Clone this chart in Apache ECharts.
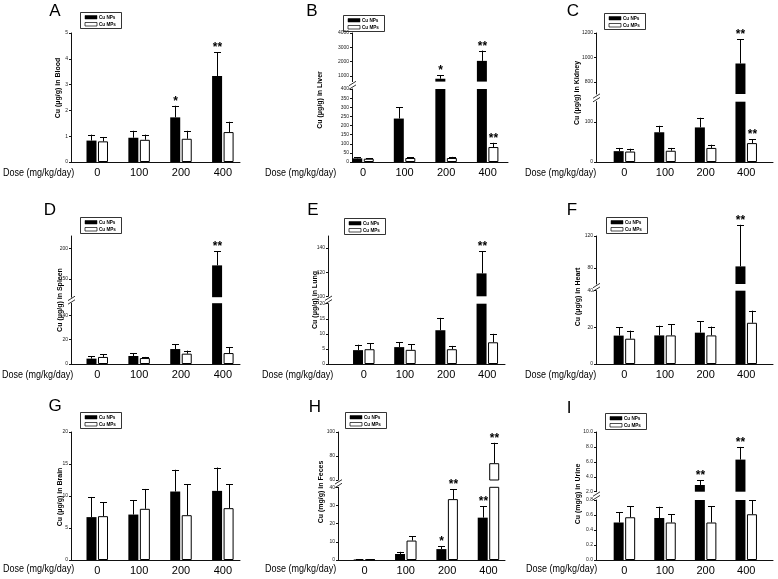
<!DOCTYPE html>
<html><head><meta charset="utf-8">
<script src="https://cdn.jsdelivr.net/npm/echarts@6/dist/echarts.min.js"></script>
<style>html,body{margin:0;padding:0;background:#fff}#c{width:778px;height:579px}</style>
</head><body><div id="c"></div>
<script>
// ---------- data ----------
const doses = ['0', '100', '200', '400'];
const legendNames = ['Cu NPs', 'Cu MPs'];

const bloodNP = [0.83, 0.94, 1.73, 3.33];
const bloodNPsd = [0.23, 0.27, 0.45, 0.93];
const bloodMP = [0.80, 0.86, 0.90, 1.16];
const bloodMPsd = [0.17, 0.20, 0.31, 0.40];
const bloodSigNP = ['', '', '*', '**'];
const bloodSigMP = ['', '', '', ''];
const bloodTicks = [0, 1, 2, 3, 4, 5];

const liverNP = [20, 238, 800, 2050];
const liverNPsd = [6, 62, 250, 720];
const liverMP = [18, 22, 22, 82];
const liverMPsd = [4, 5, 6, 23];
const liverSigNP = ['', '', '*', '**'];
const liverSigMP = ['', '', '', '**'];
const liverTicksLow = [0, 50, 100, 150, 200, 250, 300, 350, 400];
const liverTicksHigh = [1000, 2000, 3000, 4000];

const kidneyNP = [27, 74, 86, 950];
const kidneyNPsd = [8, 16, 24, 200];
const kidneyMP = [26, 28, 35, 47];
const kidneyMPsd = [7, 7, 8, 10];
const kidneySigNP = ['', '', '', '**'];
const kidneySigMP = ['', '', '', '**'];
const kidneyTicksLow = [0, 100];
const kidneyTicksHigh = [800, 1000, 1200];

const spleenNP = [4.4, 6.6, 12.3, 172];
const spleenNPsd = [1.9, 2.4, 3.9, 23];
const spleenMP = [5.8, 4.9, 8.5, 9.0];
const spleenMPsd = [2.4, 0.9, 2.5, 5.0];
const spleenSigNP = ['', '', '', '**'];
const spleenSigMP = ['', '', '', ''];
const spleenTicksLow = [0, 20, 40];
const spleenTicksHigh = [150, 200];

const lungNP = [4.6, 5.6, 11.2, 119];
const lungNPsd = [1.8, 1.7, 4.1, 18.5];
const lungMP = [4.9, 4.7, 4.9, 7.2];
const lungMPsd = [2.0, 1.9, 1.1, 2.8];
const lungSigNP = ['', '', '', '**'];
const lungSigMP = ['', '', '', ''];
const lungTicksLow = [0, 5, 10, 15, 20];
const lungTicksHigh = [100, 120, 140];

const heartNP = [15.5, 15.6, 17.1, 82];
const heartNPsd = [4.5, 5.3, 6.2, 52];
const heartMP = [13.8, 15.6, 15.6, 22.5];
const heartMPsd = [4.4, 6.2, 4.8, 6.6];
const heartSigNP = ['', '', '', '**'];
const heartSigMP = ['', '', '', ''];
const heartTicksLow = [0, 20, 40];
const heartTicksHigh = [80, 120];

const brainNP = [6.7, 7.1, 10.7, 10.8];
const brainNPsd = [3.15, 2.2, 3.4, 3.65];
const brainMP = [6.85, 8.0, 7.0, 8.1];
const brainMPsd = [2.2, 3.1, 4.8, 3.7];
const brainSigNP = ['', '', '', ''];
const brainSigMP = ['', '', '', ''];
const brainTicks = [0, 5, 10, 15, 20];

const fecesNP = [0.3, 3.3, 6.0, 23.3];
const fecesNPsd = [0.1, 1.2, 1.6, 6.3];
const fecesMP = [0.3, 10.7, 33.5, 74];
const fecesMPsd = [0.1, 2.4, 5.4, 17];
const fecesSigNP = ['', '', '*', '**'];
const fecesSigMP = ['', '', '**', '**'];
const fecesTicksLow = [0, 10, 20, 30, 40];
const fecesTicksHigh = [60, 80, 100];

const urineNP = [0.50, 0.56, 2.9, 6.3];
const urineNPsd = [0.14, 0.15, 0.65, 1.7];
const urineMP = [0.57, 0.50, 0.50, 0.61];
const urineMPsd = [0.15, 0.11, 0.22, 0.19];
const urineSigNP = ['', '', '**', '**'];
const urineSigMP = ['', '', '', ''];
const urineTicksLow = [0, 0.2, 0.4, 0.6, 0.8];
const urineTicksHigh = [2, 4, 6, 8, 10];

// ---------- layout ----------
const FR = "'Liberation Sans',Arial,sans-serif";
const fmt1 = v => Number(v).toFixed(1);

const panels = [
  {letter:'A', yName:'Cu (μg/g) in Blood', np:bloodNP, npSd:bloodNPsd, mp:bloodMP, mpSd:bloodMPsd, sigNP:bloodSigNP, sigMP:bloodSigMP,
   segs:[{lo:0, hi:5, ticks:bloodTicks}],
   lay:{ax:71, right:240, xmin:-0.627, xmax:3.41, px:[[33,162]], letter:[55,11], leg:[80,12], name:[58,88], dose:[3,173]}},
  {letter:'B', yName:'Cu (μg/g) in Liver', np:liverNP, npSd:liverNPsd, mp:liverMP, mpSd:liverMPsd, sigNP:liverSigNP, sigMP:liverSigMP,
   segs:[{lo:0, hi:400, ticks:liverTicksLow}, {lo:600, hi:4000, ticks:liverTicksHigh}],
   lay:{ax:352, right:508, xmin:-0.265, xmax:3.49, px:[[89,162],[33,81.6]], letter:[312,11], leg:[343,15], name:[320,100], dose:[265,173]}},
  {letter:'C', yName:'Cu (μg/g) in Kidney', np:kidneyNP, npSd:kidneyNPsd, mp:kidneyMP, mpSd:kidneyMPsd, sigNP:kidneySigNP, sigMP:kidneySigMP,
   segs:[{lo:0, hi:150, ticks:kidneyTicksLow}, {lo:700, hi:1200, ticks:kidneyTicksHigh}],
   lay:{ax:596, right:773, xmin:-0.70, xmax:3.66, px:[[101.7,162],[33,94]], letter:[573,11], leg:[604,13], name:[577,93], dose:[525,173]}},
  {letter:'D', yName:'Cu (μg/g) in Spleen', np:spleenNP, npSd:spleenNPsd, mp:spleenMP, mpSd:spleenMPsd, sigNP:spleenSigNP, sigMP:spleenSigMP,
   segs:[{lo:0, hi:50, ticks:spleenTicksLow}, {lo:120, hi:220, ticks:spleenTicksHigh}],
   lay:{ax:71, right:240, xmin:-0.627, xmax:3.41, px:[[303.2,364],[236,297.2]], letter:[50,210], leg:[80,217], name:[60,300], dose:[2,375]}},
  {letter:'E', yName:'Cu (μg/g) in Lung', np:lungNP, npSd:lungNPsd, mp:lungMP, mpSd:lungMPsd, sigNP:lungSigNP, sigMP:lungSigMP,
   segs:[{lo:0, hi:20, ticks:lungTicksLow}, {lo:100, hi:150, ticks:lungTicksHigh}],
   lay:{ax:328, right:505, xmin:-0.869, xmax:3.43, px:[[303.7,364],[236,296.3]], letter:[313,210], leg:[344,218], name:[315,300], dose:[262,375]}},
  {letter:'F', yName:'Cu (μg/g) in Heart', np:heartNP, npSd:heartNPsd, mp:heartMP, mpSd:heartMPsd, sigNP:heartSigNP, sigMP:heartSigMP,
   segs:[{lo:0, hi:40, ticks:heartTicksLow}, {lo:60, hi:120, ticks:heartTicksHigh}],
   lay:{ax:596, right:773, xmin:-0.70, xmax:3.66, px:[[290.7,364],[236,284]], letter:[572,210], leg:[606,217], name:[578,297], dose:[525,375]}},
  {letter:'G', yName:'Cu (μg/g) in Brain', np:brainNP, npSd:brainNPsd, mp:brainMP, mpSd:brainMPsd, sigNP:brainSigNP, sigMP:brainSigMP,
   segs:[{lo:0, hi:20, ticks:brainTicks}],
   lay:{ax:71, right:240, xmin:-0.627, xmax:3.41, px:[[432,560]], letter:[55,406], leg:[80,412], name:[60,497], dose:[3,569]}},
  {letter:'H', yName:'Cu (mg/g) in Feces', np:fecesNP, npSd:fecesNPsd, mp:fecesMP, mpSd:fecesMPsd, sigNP:fecesSigNP, sigMP:fecesSigMP,
   segs:[{lo:0, hi:40, ticks:fecesTicksLow}, {lo:60, hi:100, ticks:fecesTicksHigh}],
   lay:{ax:338, right:505, xmin:-0.64, xmax:3.4, px:[[487.3,560],[432,480]], letter:[315,407], leg:[345,412], name:[321,492], dose:[265,569]}},
  {letter:'I', yName:'Cu (mg/g) in Urine', np:urineNP, npSd:urineNPsd, mp:urineMP, mpSd:urineMPsd, sigNP:urineSigNP, sigMP:urineSigMP,
   segs:[{lo:0, hi:0.8, ticks:urineTicksLow}, {lo:2, hi:10, ticks:urineTicksHigh}], fmt:fmt1,
   lay:{ax:596, right:773, xmin:-0.70, xmax:3.66, px:[[500,560],[432,491.7]], letter:[569,408], leg:[605,413], name:[578,494], dose:[526,569]}}
];

const BW = 10, GAP = 1.5, OFF = (BW + GAP) / 2;
const option = {animation:false, backgroundColor:'#fff', grid:[], xAxis:[], yAxis:[], series:[], graphic:[]};

function txt(x, y, text, font, align, valign, extra) {
  return Object.assign({type:'text', x:x, y:y, silent:true,
    style:{text:text, font:font, fill:'#000', textAlign:align, align:align, textVerticalAlign:valign, verticalAlign:valign}}, extra || {});
}

panels.forEach(p => {
  const L = p.lay;
  p.segs.forEach((s, k) => {
    const gi = option.grid.length;
    const top = L.px[k][0], bot = L.px[k][1];
    const isLower = k === 0, isTop = k === p.segs.length - 1;
    option.grid.push({left:L.ax, top:top, width:L.right - L.ax, height:bot - top});
    option.xAxis.push({gridIndex:gi, type:'value', min:L.xmin, max:L.xmax, show:isLower,
      splitLine:{show:false},
      axisLine:{show:true, onZero:false, lineStyle:{color:'#111', width:1}},
      axisTick:{show:false},
      axisLabel:{show:true, customValues:[0,1,2,3], formatter:v => doses[Math.round(v)] || '',
        fontSize:11, fontFamily:FR, color:'#000', margin:5}});
    option.yAxis.push({gridIndex:gi, type:'value', min:s.lo, max:s.hi,
      splitLine:{show:false},
      axisLine:{show:true, onZero:false, lineStyle:{color:'#111', width:1}},
      axisTick:{show:true, length:2, customValues:s.ticks, lineStyle:{color:'#111'}},
      axisLabel:{customValues:s.ticks, fontSize:5, fontFamily:FR, color:'#222', margin:3,
        formatter:p.fmt || (v => String(v))}});
    option.series.push({type:'bar', name:legendNames[0], xAxisIndex:gi, yAxisIndex:gi, barWidth:BW, barGap:'15%',
      clip:true, silent:true, data:p.np.map((v, i) => [i, v]), itemStyle:{color:'#000'}});
    option.series.push({type:'bar', name:legendNames[1], xAxisIndex:gi, yAxisIndex:gi, barWidth:BW, barGap:'15%',
      clip:true, silent:true, data:p.mp.map((v, i) => [i, v]), itemStyle:{color:'#fff', borderColor:'#000', borderWidth:1}});
    [0, 1].forEach(which => {
      const vals = which === 0 ? p.np : p.mp;
      const sds = which === 0 ? p.npSd : p.mpSd;
      const sig = which === 0 ? p.sigNP : p.sigMP;
      const dx = which === 0 ? -OFF : OFF;
      option.series.push({type:'custom', xAxisIndex:gi, yAxisIndex:gi, clip:false, silent:true, z:5,
        data:vals.map((v, i) => [i, v, v + sds[i]]),
        renderItem:(params, api) => {
          const i = api.value(0), v = api.value(1), e = api.value(2);
          const ch = [];
          if ((!isTop && v >= s.hi) || e < s.lo) return {type:'group', children:ch};
          const y0 = Math.max(v, s.lo);
          const capIn = isTop || e <= s.hi;
          const y1 = capIn ? e : s.hi;
          const p0 = api.coord([i, y0]), p1 = api.coord([i, y1]);
          const x = Math.round(p0[0] + dx) + 0.5;
          ch.push({type:'line', shape:{x1:x, y1:p0[1], x2:x, y2:p1[1]}, style:{stroke:'#000', lineWidth:1}});
          if (capIn) {
            const cy = Math.round(p1[1]) + 0.5;
            ch.push({type:'line', shape:{x1:x - 3.5, y1:cy, x2:x + 3.5, y2:cy}, style:{stroke:'#000', lineWidth:1}});
            const sg = sig[params.dataIndex];
            if (sg) {
              ch.push({type:'text', style:{text:sg, x:x, y:cy + 1, font:'bold 12px ' + FR, fill:'#000',
                textAlign:'center', align:'center', textVerticalAlign:'bottom', verticalAlign:'bottom'}});
            }
          }
          return {type:'group', children:ch};
        }});
    });
  });

  // decorations
  option.graphic.push(txt(L.letter[0], L.letter[1], p.letter, '17px ' + FR, 'center', 'middle'));
  option.graphic.push(txt(L.name[0], L.name[1], p.yName, 'bold 7px ' + FR, 'center', 'middle', {rotation:Math.PI / 2}));
  option.graphic.push(txt(L.dose[0], L.dose[1], 'Dose (mg/kg/day)', '11px ' + FR, 'left', 'middle', {scaleX:0.82}));
  const lx = L.leg[0], ly = L.leg[1];
  option.graphic.push({type:'group', x:lx, y:ly, silent:true, children:[
    {type:'rect', shape:{x:0.5, y:0.5, width:41, height:16}, style:{fill:'#fff', stroke:'#000', lineWidth:0.8}},
    {type:'rect', shape:{x:5, y:3.5, width:12, height:3.5}, style:{fill:'#000', stroke:'#000', lineWidth:0.5}},
    {type:'rect', shape:{x:5, y:10.5, width:12, height:3.5}, style:{fill:'#fff', stroke:'#000', lineWidth:0.7}},
    txt(19, 5.3, legendNames[0], 'bold 4.6px ' + FR, 'left', 'middle'),
    txt(19, 12.3, legendNames[1], 'bold 4.6px ' + FR, 'left', 'middle')
  ]});
  if (p.segs.length > 1) {
    const yc = (L.px[0][0] + L.px[1][1]) / 2;
    const ax = L.ax + 0.5;
    [-1.8, 1.8].forEach(d => {
      option.graphic.push({type:'line', silent:true, shape:{x1:ax - 3.5, y1:yc + d + 2.2, x2:ax + 3.5, y2:yc + d - 2.2},
        style:{stroke:'#000', lineWidth:0.8}});
    });
  }
});

const chart = echarts.init(document.getElementById('c'), null, {renderer:'canvas'});
chart.setOption(option);
</script></body></html>
